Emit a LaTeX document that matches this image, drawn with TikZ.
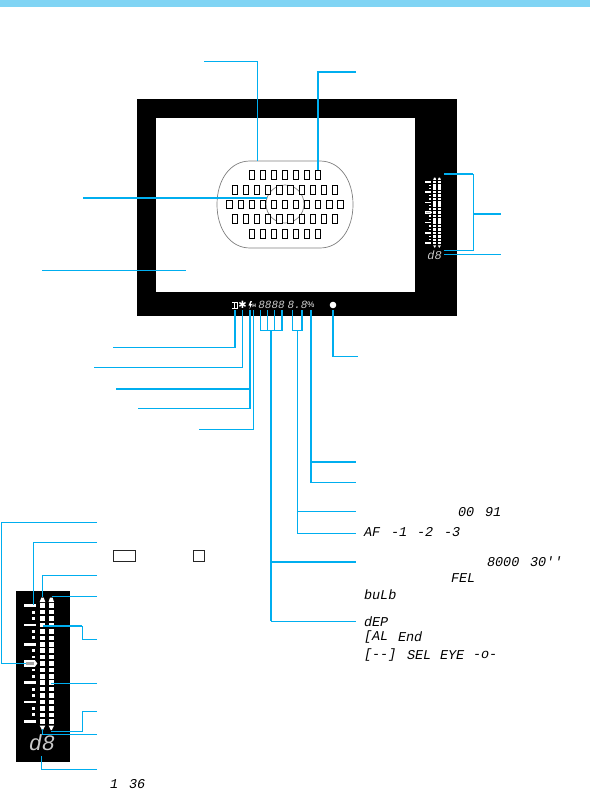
\documentclass[tikz,border=0pt]{standalone}
\usepackage{fontspec}
\setmainfont{Liberation Sans}
\newfontfamily\lcdfont{Liberation Mono}[ItalicFont=* Italic]
\newfontfamily\symfont{DejaVu Sans}
\definecolor{leader}{HTML}{00AEEF}
\definecolor{band}{HTML}{80D4F4}
\definecolor{lcdgray}{HTML}{C8C8C8}
\newcommand\meterbar[3]{%
\begin{scope}[shift={(#1,#2)},scale=#3]
  \foreach \i in {-9,...,9}{
    \fill[white] (-2.5,\i*6.42-2.3) rectangle (2.5,\i*6.42+2.3);
    \fill[white] (6.3,\i*6.42-2.3) rectangle (11.3,\i*6.42+2.3);
  }
  \foreach \i in {-9,-8,-7,-6,-5,-4,-3,-2,-1,1,2,3,4,5,6,7,8,9}{
    \pgfmathtruncatemacro\r{abs(mod(\i,3))}
    \ifnum\r=0
      \fill[white] (-18.5,\i*6.42-1.4) rectangle (-6.5,\i*6.42+1.4);
    \else
      \fill[white] (-10.5,\i*6.42-1.4) rectangle (-7.5,\i*6.42+1.4);
    \fi
  }
  \fill[white] (-18.5,-3.2) rectangle (-7.5,3.2);
  \fill[white] (-7.5,-3.2) -- (-5.2,0) -- (-7.5,3.2) -- cycle;
  \fill[black!35] (-16.5,-1.4) rectangle (-9,1.4);
  \fill[white] (-2.8,-61.5) -- (-1.2,-66) -- (1.2,-66) -- (2.8,-61.5) -- cycle;
  \fill[white] (6,-61.5) -- (7.6,-66) -- (10,-66) -- (11.6,-61.5) -- cycle;
  \fill[white] (-2.8,62) -- (2.8,62) -- (1.2,65) -- (0.6,66.5) -- (-0.6,66.5) -- (-1.2,65) -- cycle;
  \fill[white] (6,62) -- (11.6,62) -- (10,65) -- (9.4,66.5) -- (8.2,66.5) -- (7.6,65) -- cycle;
\end{scope}}
\begin{document}
\begin{tikzpicture}[x=1pt,y=-1pt,
  thk/.style={draw=leader,line width=1.5pt},
  thn/.style={draw=leader,line width=0.8pt},
  lcdtxt/.style={inner sep=0,outer sep=0,anchor=west,font=\lcdfont\itshape\fontsize{13.5}{13.5}\selectfont,text=black},
  lcdicon/.style={inner sep=0,outer sep=0,text=lcdgray},
  afbox/.style={draw=black,line width=1pt,fill=white,minimum width=5.2pt,minimum height=8.6pt,inner sep=0},
  swatch/.style={draw=black!85,line width=1pt,fill=white}]
\useasboundingbox (0,0) rectangle (590,790);
% top band
\fill[band] (0,0) rectangle (590,7);
% viewfinder
\fill[black] (137,99) rectangle (457,316);
\fill[white] (156,118) rectangle (415,292);
% AF frame
\draw[black!50,line width=0.7pt] (250,161) -- (320,161) .. controls (340,161) and (353,180) .. (353,204.5)
  .. controls (353,229) and (340,248) .. (320,248) -- (250,248)
  .. controls (230,248) and (217,229) .. (217,204.5) .. controls (217,180) and (230,161) .. (250,161) -- cycle;
\draw[black!50,line width=0.7pt] (285,204) circle[radius=19];
% AF points
\foreach \c/\n/\y in {-33.3/7/175,-50/10/190,-55.5/11/204.5,-50/10/219,-33.3/7/234}{
  \pgfmathtruncatemacro\m{\n-1}
  \foreach \k in {0,...,\m}{
    \node[afbox] at ({285+\c+\k*11.1},\y) {};
  }
}
% bottom display of the viewfinder
\draw[white,line width=1pt] (232,302) -- (237,302) -- (237,308) -- (232,308);
\draw[white,line width=1pt] (234,302) -- (234,308);
\node[lcdicon,text=white,font=\symfont\fontsize{10}{10}\selectfont] (star) at (242.5,305) {✱};
\fill[white] (250.5,301) -- (248.5,305.5) -- (250.2,305.5) -- (249.5,309) -- (252,304) -- (250.5,304) -- (252,301) -- cycle;
\node[lcdicon,text=white,font=\fontsize{5}{5}\selectfont\bfseries] (hs) at (254.2,306) {H};
\node[lcdicon,font=\lcdfont\itshape\fontsize{11}{11}\selectfont] (ev) at (271.5,305) {8888};
\node[lcdicon,font=\lcdfont\itshape\fontsize{11}{11}\selectfont] (fn) at (297.5,305) {8.8};
\node[lcdicon,text=white,font=\fontsize{8}{8}\selectfont] (pct) at (311,305) {\%};
\fill[white] (333,305) circle[radius=3.3];
\coordinate (dot) at (333,310);
% right meter
\meterbar{434.7}{212.5}{0.53}
\node[lcdicon,font=\lcdfont\itshape\fontsize{12}{12}\selectfont] (rd) at (434.5,255) {d8};
% inset meter
\fill[black] (16,591) rectangle (70,761.5);
\meterbar{42.5}{663.5}{1}
\node[lcdicon,font=\lcdfont\itshape\fontsize{22}{22}\selectfont] (ld) at (42,743) {d8};
% LCD texts
\node[lcdtxt] at (110,784) {1};
\node[lcdtxt] at (129,784) {36};
\node[lcdtxt] at (458,512) {00};
\node[lcdtxt] at (485,512) {91};
\node[lcdtxt] at (364,532) {AF};
\node[lcdtxt] at (391,532) {-1};
\node[lcdtxt] at (417,532) {-2};
\node[lcdtxt] at (444,532) {-3};
\node[lcdtxt] at (487,562) {8000};
\node[lcdtxt] at (530,562) {30''};
\node[lcdtxt] at (451,578) {FEL};
\node[lcdtxt] at (364,595) {buLb};
\node[lcdtxt] at (364,621.5) {dEP};
\node[lcdtxt] at (364,637) {[AL};
\node[lcdtxt] at (398,637) {End};
\node[lcdtxt] at (364,655) {[--]};
\node[lcdtxt] at (407,655) {SEL};
\node[lcdtxt] at (440,655) {EYE};
\node[lcdtxt] at (473,655) {-o-};
% legend swatches
\draw[swatch] (113.5,550.5) rectangle (135.5,561.5);
\draw[swatch] (193.5,550.5) rectangle (204,561.5);
% free ends of the connectors
\coordinate (tA) at (204,61);
\coordinate (tB) at (356,72);
\coordinate (lA) at (83,198);
\coordinate (lB) at (42,270);
\coordinate (lC) at (186,270);
% upper leaders
\draw[thn] (tA) -- (257.5,61) -- (257.5,161);
\draw[thk] (tB) -- (318,72) -- (318,170);
\draw[thk] (lA) -- (267,198);
\draw[thn] (lB) -- (lC);
% right leaders
\draw[thk] (444,174) -- (473,174);
\draw[thn] (473,174) -- (473,250) -- (444,250);
\draw[thk] (473,214) -- (501,214);
\draw[thn] (444,254.5) -- (501,254.5);
% lower left of the display
\draw[thk] (235,310) -- (235,347.5) -- (113,347.5);
\draw[thk] (242.7,310) -- (242.7,367.5) -- (94,367.5);
\draw[thk] (250,310) -- (250,389) -- (116,389);
\draw[thn] (250,389) -- (250,408.5) -- (138,408.5);
\draw[thk] (250,389) -- (250,408.5);
\draw[thn] (253.3,310) -- (253.3,429.5);
\draw[thk] (253.3,429.5) -- (199,429.5);
% digit brackets
\draw[thn] (260.7,310) -- (260.7,330) -- (282,330) -- (282,310);
\draw[thn] (267.5,310) -- (267.5,330);
\draw[thn] (274.5,310) -- (274.5,330);
\draw[thk] (282,310) -- (282,330);
\draw[thk] (271,330) -- (271,621);
\draw[thk] (271,562) -- (356,562);
\draw[thn] (271,621) -- (356,621);
\draw[thk] (292.7,310) -- (292.7,330);
\draw[thk] (302,310) -- (302,330);
\draw[thn] (292,330) -- (302.7,330);
\draw[thn] (297.3,330) -- (297.3,533) -- (356,533);
\draw[thn] (297.3,511) -- (356,511);
\draw[thk] (311,310) -- (311,482.5);
\draw[thk] (311,462) -- (356,462);
\draw[thn] (311,482) -- (356,482);
\draw[thk] (dot) -- (333,356.5) -- (358,356.5);
% inset leaders
\draw[thn] (97,522.5) -- (1.5,522.5) -- (1.5,663.5);
\draw[thk] (1.5,663.5) -- (26,663.5);
\draw[thn] (97,542.5) -- (33.5,542.5) -- (33.5,605);
\draw[thn] (97,575.5) -- (42.5,575.5) -- (42.5,597);
\draw[thn] (97,596.5) -- (52,596.5);
\draw[thn] (97,639.5) -- (82,639.5) -- (82,626);
\draw[thk] (82,626) -- (43,626);
\draw[thn] (97,683.5) -- (51,683.5);
\draw[thn] (97,711) -- (82,711) -- (82,731) -- (51,731);
\draw[thn] (97,734.5) -- (42.5,734.5) -- (42.5,729);
\draw[thn] (97,769.5) -- (41.3,769.5) -- (41.3,756);
\end{tikzpicture}
\end{document}
